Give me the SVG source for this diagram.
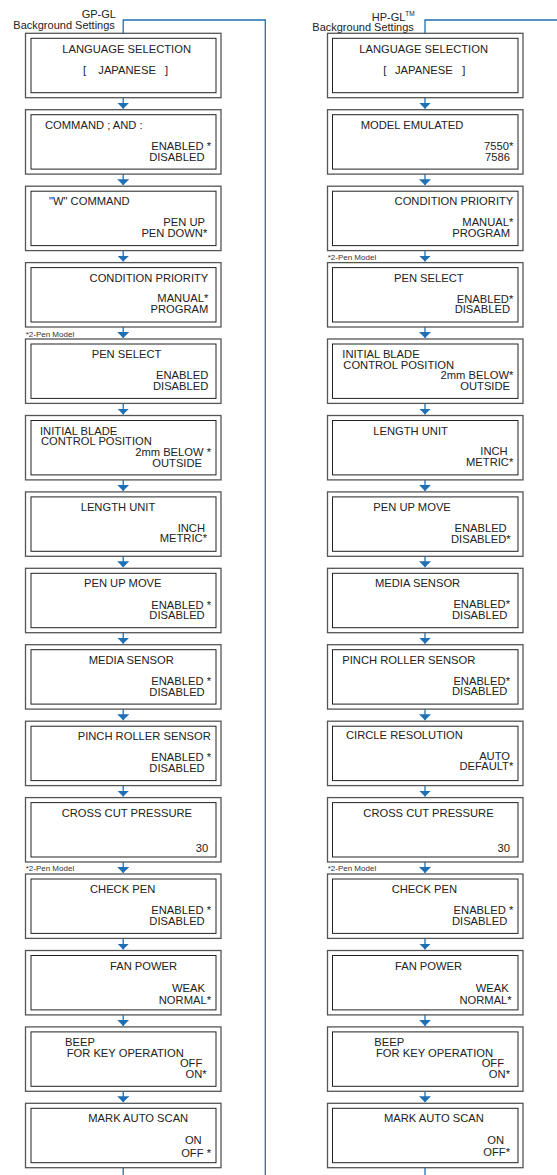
<svg xmlns="http://www.w3.org/2000/svg" width="557" height="1175" viewBox="0 0 557 1175">
<style>
text{font-family:"Liberation Sans",Arial,sans-serif;font-size:11.2px;fill:#222}
.e{text-anchor:end}
.note{font-size:8px;fill:#333}
.hdr{font-size:11px}
.tm{font-size:6.5px}
.outer{fill:#fff;stroke:#555;stroke-width:1.3}
.inner{fill:#fff;stroke:#222;stroke-width:1}
.conn{fill:none;stroke:#1f6fb4;stroke-width:1.3}
</style>
<defs>
<marker id="ah" viewBox="0 0 6 12" refX="6" refY="6" markerWidth="6" markerHeight="12" markerUnits="userSpaceOnUse" orient="auto">
<path d="M0,0 L6,6 L0,12 z" fill="#1f6fb4"/>
</marker>
<g id="boxL"><rect class="outer" x="25.5" y="0" width="195.5" height="64.4"/><rect class="inner" x="31" y="5" width="185" height="54.4"/></g>
<g id="boxR"><rect class="outer" x="327.5" y="0" width="195.5" height="64.4"/><rect class="inner" x="332.5" y="5" width="185.5" height="54.4"/></g>
</defs>

<g id="connectors">
<path class="conn" d="M123.2,33.3 V20 H265.3 V1175"/>
<path class="conn" d="M425,33.3 V20 H557"/>
<g marker-end="url(#ah)">
<line class="conn" x1="123.2" y1="97.7" x2="123.2" y2="108.7"/>
<line class="conn" x1="123.2" y1="174.1" x2="123.2" y2="185.2"/>
<line class="conn" x1="123.2" y1="250.6" x2="123.2" y2="261.6"/>
<line class="conn" x1="123.2" y1="327" x2="123.2" y2="338"/>
<line class="conn" x1="123.2" y1="403.4" x2="123.2" y2="414.5"/>
<line class="conn" x1="123.2" y1="479.9" x2="123.2" y2="490.9"/>
<line class="conn" x1="123.2" y1="556.3" x2="123.2" y2="567.3"/>
<line class="conn" x1="123.2" y1="632.7" x2="123.2" y2="643.7"/>
<line class="conn" x1="123.2" y1="709.1" x2="123.2" y2="720.2"/>
<line class="conn" x1="123.2" y1="785.6" x2="123.2" y2="796.6"/>
<line class="conn" x1="123.2" y1="862" x2="123.2" y2="873"/>
<line class="conn" x1="123.2" y1="938.4" x2="123.2" y2="949.5"/>
<line class="conn" x1="123.2" y1="1014.9" x2="123.2" y2="1025.9"/>
<line class="conn" x1="123.2" y1="1091.3" x2="123.2" y2="1102.3"/>
<line class="conn" x1="425" y1="97.7" x2="425" y2="108.7"/>
<line class="conn" x1="425" y1="174.1" x2="425" y2="185.2"/>
<line class="conn" x1="425" y1="250.6" x2="425" y2="261.6"/>
<line class="conn" x1="425" y1="327" x2="425" y2="338"/>
<line class="conn" x1="425" y1="403.4" x2="425" y2="414.5"/>
<line class="conn" x1="425" y1="479.9" x2="425" y2="490.9"/>
<line class="conn" x1="425" y1="556.3" x2="425" y2="567.3"/>
<line class="conn" x1="425" y1="632.7" x2="425" y2="643.7"/>
<line class="conn" x1="425" y1="709.1" x2="425" y2="720.2"/>
<line class="conn" x1="425" y1="785.6" x2="425" y2="796.6"/>
<line class="conn" x1="425" y1="862" x2="425" y2="873"/>
<line class="conn" x1="425" y1="938.4" x2="425" y2="949.5"/>
<line class="conn" x1="425" y1="1014.9" x2="425" y2="1025.9"/>
<line class="conn" x1="425" y1="1091.3" x2="425" y2="1102.3"/>
</g>
<line class="conn" x1="123.2" y1="1167.7" x2="123.2" y2="1175"/>
<line class="conn" x1="425" y1="1167.7" x2="425" y2="1175"/>
</g>

<g id="headers">
<text class="hdr" x="81.7" y="18.3">GP-GL</text>
<text class="hdr" x="13.3" y="28.5">Background Settings</text>
<text class="hdr" x="371.7" y="20.5">HP-GL<tspan class="tm" dy="-4.5">TM</tspan></text>
<text class="hdr" x="312.3" y="30.5">Background Settings</text>
<text class="note" x="25.7" y="337">*2-Pen Model</text>
<text class="note" x="25.7" y="870.7">*2-Pen Model</text>
<text class="note" x="327.7" y="260">*2-Pen Model</text>
<text class="note" x="327.7" y="870.7">*2-Pen Model</text>
</g>

<!-- LEFT COLUMN -->
<g id="L0" transform="translate(0,33.3)"><use href="#boxL"/>
<text x="62.3" y="20">LANGUAGE SELECTION</text>
<text y="41"><tspan x="83">[</tspan><tspan x="98.3">JAPANESE</tspan><tspan x="165">]</tspan></text></g>
<g id="L1" transform="translate(0,109.7)"><use href="#boxL"/>
<text x="45" y="19.3">COMMAND ; AND :</text>
<text class="e" x="211" y="40.3">ENABLED *</text>
<text class="e" x="204.5" y="51">DISABLED</text></g>
<g id="L2" transform="translate(0,186.2)"><use href="#boxL"/>
<text x="49" y="19.3">"W" COMMAND</text>
<text class="e" x="205" y="40.3">PEN UP</text>
<text class="e" x="207.3" y="51">PEN DOWN*</text></g>
<g id="L3" transform="translate(0,262.6)"><use href="#boxL"/>
<text class="e" x="208.3" y="19">CONDITION PRIORITY</text>
<text class="e" x="208.3" y="39.5">MANUAL*</text>
<text class="e" x="208.3" y="50.5">PROGRAM</text></g>
<g id="L4" transform="translate(0,339)"><use href="#boxL"/>
<text x="91.7" y="19">PEN SELECT</text>
<text class="e" x="208.3" y="40">ENABLED</text>
<text class="e" x="208.3" y="50.7">DISABLED</text></g>
<g id="L5" transform="translate(0,415.5)"><use href="#boxL"/>
<text x="40" y="19.5">INITIAL BLADE</text>
<text x="41" y="29.8">CONTROL POSITION</text>
<text class="e" x="211" y="40.2">2mm BELOW *</text>
<text class="e" x="202" y="51">OUTSIDE</text></g>
<g id="L6" transform="translate(0,491.9)"><use href="#boxL"/>
<text x="80.7" y="18.8">LENGTH UNIT</text>
<text class="e" x="205" y="39.8">INCH</text>
<text class="e" x="207" y="50.5">METRIC*</text></g>
<g id="L7" transform="translate(0,568.3)"><use href="#boxL"/>
<text x="84" y="19">PEN UP MOVE</text>
<text class="e" x="211" y="40.3">ENABLED *</text>
<text class="e" x="204.7" y="51">DISABLED</text></g>
<g id="L8" transform="translate(0,644.7)"><use href="#boxL"/>
<text x="88.7" y="19.2">MEDIA SENSOR</text>
<text class="e" x="211" y="40.3">ENABLED *</text>
<text class="e" x="204.7" y="51">DISABLED</text></g>
<g id="L9" transform="translate(0,721.2)"><use href="#boxL"/>
<text x="77.7" y="19.3">PINCH ROLLER SENSOR</text>
<text class="e" x="211" y="40.3">ENABLED *</text>
<text class="e" x="204.7" y="51">DISABLED</text></g>
<g id="L10" transform="translate(0,797.6)"><use href="#boxL"/>
<text x="61.7" y="19.3">CROSS CUT PRESSURE</text>
<text class="e" x="208.3" y="54">30</text></g>
<g id="L11" transform="translate(0,874)"><use href="#boxL"/>
<text x="90" y="19.3">CHECK PEN</text>
<text class="e" x="211" y="40.3">ENABLED *</text>
<text class="e" x="204.7" y="51">DISABLED</text></g>
<g id="L12" transform="translate(0,950.5)"><use href="#boxL"/>
<text x="110" y="19.3">FAN POWER</text>
<text class="e" x="205" y="41.8">WEAK</text>
<text class="e" x="211" y="53.2">NORMAL*</text></g>
<g id="L13" transform="translate(0,1026.9)"><use href="#boxL"/>
<text x="65" y="19.2">BEEP</text>
<text x="66.7" y="30.3">FOR KEY OPERATION</text>
<text class="e" x="202.3" y="40.3">OFF</text>
<text class="e" x="206.7" y="51.3">ON*</text></g>
<g id="L14" transform="translate(0,1103.3)"><use href="#boxL"/>
<text x="88.3" y="18.6">MARK AUTO SCAN</text>
<text class="e" x="201.7" y="41.2">ON</text>
<text class="e" x="211" y="53.5">OFF *</text></g>

<!-- RIGHT COLUMN -->
<g id="R0" transform="translate(0,33.3)"><use href="#boxR"/>
<text x="359.3" y="20">LANGUAGE SELECTION</text>
<text y="41"><tspan x="383.3">[</tspan><tspan x="395">JAPANESE</tspan><tspan x="462.3">]</tspan></text></g>
<g id="R1" transform="translate(0,109.7)"><use href="#boxR"/>
<text x="360.7" y="19.3">MODEL EMULATED</text>
<text class="e" x="513.3" y="40.3">7550*</text>
<text class="e" x="510" y="51">7586</text></g>
<g id="R2" transform="translate(0,186.2)"><use href="#boxR"/>
<text class="e" x="513.3" y="19">CONDITION PRIORITY</text>
<text class="e" x="513.3" y="40">MANUAL*</text>
<text class="e" x="510" y="50.7">PROGRAM</text></g>
<g id="R3" transform="translate(0,262.6)"><use href="#boxR"/>
<text x="394" y="19">PEN SELECT</text>
<text class="e" x="513.3" y="40">ENABLED*</text>
<text class="e" x="510" y="50.7">DISABLED</text></g>
<g id="R4" transform="translate(0,339)"><use href="#boxR"/>
<text x="342.3" y="19.3">INITIAL BLADE</text>
<text x="343.3" y="30">CONTROL POSITION</text>
<text class="e" x="513.3" y="40">2mm BELOW*</text>
<text class="e" x="510" y="51">OUTSIDE</text></g>
<g id="R5" transform="translate(0,415.5)"><use href="#boxR"/>
<text x="373.3" y="19">LENGTH UNIT</text>
<text class="e" x="507.7" y="39.8">INCH</text>
<text class="e" x="513.3" y="50.5">METRIC*</text></g>
<g id="R6" transform="translate(0,491.9)"><use href="#boxR"/>
<text x="373.3" y="19">PEN UP MOVE</text>
<text class="e" x="506.7" y="40">ENABLED</text>
<text class="e" x="510.7" y="50.7">DISABLED*</text></g>
<g id="R7" transform="translate(0,568.3)"><use href="#boxR"/>
<text x="375" y="19">MEDIA SENSOR</text>
<text class="e" x="510" y="40">ENABLED*</text>
<text class="e" x="507.3" y="50.7">DISABLED</text></g>
<g id="R8" transform="translate(0,644.7)"><use href="#boxR"/>
<text x="342.3" y="19.3">PINCH ROLLER SENSOR</text>
<text class="e" x="510" y="40">ENABLED*</text>
<text class="e" x="507.3" y="50.7">DISABLED</text></g>
<g id="R9" transform="translate(0,721.2)"><use href="#boxR"/>
<text x="346" y="18">CIRCLE RESOLUTION</text>
<text class="e" x="510" y="39">AUTO</text>
<text class="e" x="513.3" y="49.3">DEFAULT*</text></g>
<g id="R10" transform="translate(0,797.6)"><use href="#boxR"/>
<text x="363.3" y="19.3">CROSS CUT PRESSURE</text>
<text class="e" x="510" y="54">30</text></g>
<g id="R11" transform="translate(0,874)"><use href="#boxR"/>
<text x="391.7" y="19.3">CHECK PEN</text>
<text class="e" x="513.3" y="40.3">ENABLED *</text>
<text class="e" x="507.3" y="51">DISABLED</text></g>
<g id="R12" transform="translate(0,950.5)"><use href="#boxR"/>
<text x="395" y="19">FAN POWER</text>
<text class="e" x="508.7" y="41.8">WEAK</text>
<text class="e" x="511.7" y="53">NORMAL*</text></g>
<g id="R13" transform="translate(0,1026.9)"><use href="#boxR"/>
<text x="374.3" y="19">BEEP</text>
<text x="376" y="30.3">FOR KEY OPERATION</text>
<text class="e" x="504" y="40.3">OFF</text>
<text class="e" x="510" y="51.3">ON*</text></g>
<g id="R14" transform="translate(0,1103.3)"><use href="#boxR"/>
<text x="384" y="18.6">MARK AUTO SCAN</text>
<text class="e" x="504" y="41.2">ON</text>
<text class="e" x="510" y="52.5">OFF*</text></g>
</svg>
